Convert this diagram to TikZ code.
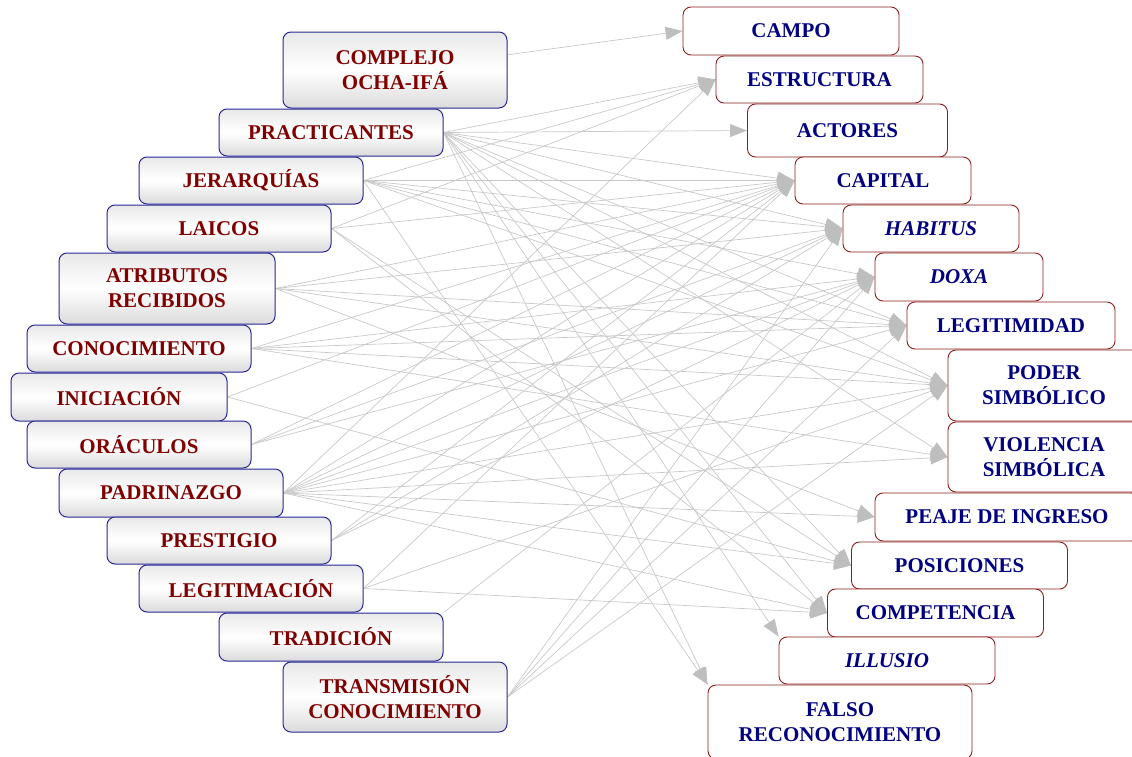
\documentclass[tikz,border=0pt]{standalone}
\usepackage{fontspec}
\setmainfont{Liberation Serif}
\usetikzlibrary{arrows.meta,backgrounds}

\definecolor{srcborder}{RGB}{40,40,150}
\definecolor{srctext}{RGB}{128,0,0}
\definecolor{dstborder}{RGB}{140,30,30}
\definecolor{dsttext}{RGB}{0,0,128}
\definecolor{linkgray}{RGB}{200,200,200}
\definecolor{headgray}{RGB}{190,190,190}

\tikzset{
  boxfont/.style={font=\fontsize{21}{25}\selectfont\bfseries},
  srcbox/.style={draw=srcborder, line width=1pt, rounded corners=8pt,
    top color=gray!18, bottom color=gray!28, middle color=white,
    text=srctext, boxfont, align=center, inner sep=0pt,
    minimum width=224pt, minimum height=47pt},
  dstbox/.style={draw=dstborder, line width=0.9pt, rounded corners=8pt,
    fill=white, text=dsttext, boxfont, align=center, inner sep=0pt,
    minimum width=216pt, minimum height=47pt},
  link/.style={draw=linkgray, line width=0.7pt,
    -{Triangle[length=17pt,width=13pt,color=headgray]}}
}

\begin{document}
\begin{tikzpicture}[x=1pt,y=-1pt]
\useasboundingbox (0,0) rectangle (1132,756);

% sources (left column)
\node[srcbox, minimum height=76pt] (complejo) at (395,70) {COMPLEJO\\OCHA-IFÁ};
\node[srcbox] (practicantes) at (331,132.5) {PRACTICANTES};
\node[srcbox] (jerarquias) at (251,180.5) {JERARQUÍAS};
\node[srcbox] (laicos) at (219,228.5) {LAICOS};
\node[srcbox, minimum width=216pt, minimum height=71pt] (atributos) at (167,288.5) {ATRIBUTOS\\RECIBIDOS};
\node[srcbox] (conocimiento) at (139,348.5) {CONOCIMIENTO};
\node[srcbox, minimum width=216pt, minimum height=48pt] (iniciacion) at (119,397) {INICIACIÓN};
\node[srcbox] (oraculos) at (139,444.5) {ORÁCULOS};
\node[srcbox, minimum height=48pt] (padrinazgo) at (171,493) {PADRINAZGO};
\node[srcbox] (prestigio) at (219,540.5) {PRESTIGIO};
\node[srcbox] (legitimacion) at (251,588.5) {LEGITIMACIÓN};
\node[srcbox, minimum height=48pt] (tradicion) at (331,637) {TRADICIÓN};
\node[srcbox, minimum height=70pt] (transmision) at (395,697) {TRANSMISIÓN\\CONOCIMIENTO};

% concepts (right column)
\node[dstbox, minimum height=48pt] (campo) at (791,31) {CAMPO};
\node[dstbox, minimum width=207pt] (estructura) at (819.5,79.5) {ESTRUCTURA};
\node[dstbox, minimum width=200pt, minimum height=53pt] (actores) at (847.5,130.5) {ACTORES};
\node[dstbox, minimum width=176pt] (capital) at (883,180.5) {CAPITAL};
\node[dstbox, minimum width=176pt] (habitus) at (931,228.5) {\itshape HABITUS};
\node[dstbox, minimum width=168pt, minimum height=48pt] (doxa) at (959,277) {\itshape DOXA};
\node[dstbox, minimum width=208pt] (legitimidad) at (1011,325.5) {LEGITIMIDAD};
\node[dstbox, minimum width=192pt, minimum height=71pt] (poder) at (1044,385.5) {PODER\\SIMBÓLICO};
\node[dstbox, minimum width=192pt, minimum height=70pt] (violencia) at (1044,457) {VIOLENCIA\\SIMBÓLICA};
\node[dstbox, minimum width=264pt, minimum height=48pt] (peaje) at (1007,517) {PEAJE DE INGRESO};
\node[dstbox] (posiciones) at (959.5,565.5) {POSICIONES};
\node[dstbox, minimum height=48pt] (competencia) at (935.5,613) {COMPETENCIA};
\node[dstbox] (illusio) at (887,660.5) {\itshape ILLUSIO};
\node[dstbox, minimum width=264pt, minimum height=74pt] (falso) at (840,722) {FALSO\\RECONOCIMIENTO};

% links
\begin{pgfonlayer}{background}
\draw[link] (complejo) -- (campo.west);
\foreach \t in {estructura,actores,capital,habitus,legitimidad,poder,violencia,posiciones,competencia}
  \draw[link] (practicantes.east) -- (\t.west);
\foreach \t in {illusio,falso}
  \draw[link] (practicantes.east) -- (\t.north west);
\foreach \t in {estructura,capital,habitus,doxa,legitimidad,poder}
  \draw[link] (jerarquias.east) -- (\t.west);
\draw[link] (jerarquias.east) -- (falso.north west);
\foreach \t in {estructura,capital,posiciones,competencia}
  \draw[link] (laicos.east) -- (\t.west);
\foreach \t in {capital,habitus,legitimidad,poder,peaje}
  \draw[link] (atributos.east) -- (\t.west);
\foreach \t in {capital,doxa,legitimidad,poder,violencia}
  \draw[link] (conocimiento.east) -- (\t.west);
\foreach \t in {capital,posiciones}
  \draw[link] (iniciacion.east) -- (\t.west);
\foreach \t in {capital,habitus,doxa}
  \draw[link] (oraculos.east) -- (\t.west);
\foreach \t in {estructura,capital,habitus,doxa,legitimidad,poder,violencia,peaje,posiciones,competencia}
  \draw[link] (padrinazgo.east) -- (\t.west);
\foreach \t in {capital,habitus,doxa}
  \draw[link] (prestigio.east) -- (\t.west);
\foreach \t in {capital,poder,competencia}
  \draw[link] (legitimacion.east) -- (\t.west);
\draw[link] (tradicion.north east) -- (doxa.west);
\foreach \t in {habitus,doxa,legitimidad,poder}
  \draw[link] (transmision.east) -- (\t.west);
\end{pgfonlayer}
\end{tikzpicture}
\end{document}
